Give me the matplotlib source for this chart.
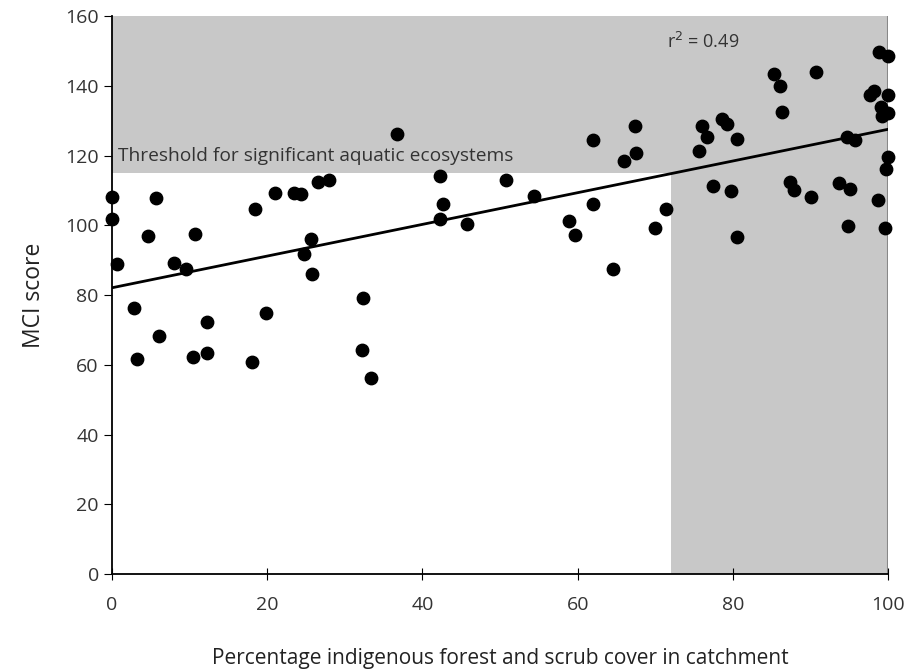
import numpy as np
import matplotlib
matplotlib.use("Agg")
import matplotlib.pyplot as plt

plt.rcParams['font.family'] = ['Open Sans', 'DejaVu Sans']

# percentage indigenous forest / scrub cover in catchment
cover = [0, 0, 0.7, 2.9, 3.2, 4.7, 5.7, 6.0, 7.95, 9.5, 10.7, 10.5, 12.2, 12.2,
         18.0, 18.4, 19.9, 21.0, 23.5, 24.4, 26.5, 28.0, 25.6, 24.8, 25.8,
         36.7, 42.3, 42.7, 42.2, 45.7, 50.8, 54.3, 32.4, 32.2, 33.4,
         61.9, 67.4, 67.5, 65.9, 62.0, 58.9, 59.6, 64.6, 69.9, 71.4,
         76.0, 76.6, 75.6, 78.6, 79.2, 80.5, 77.4, 79.7, 80.5,
         85.3, 86.1, 90.7, 86.3, 87.3, 87.9, 90.1, 93.6, 95.1, 94.8, 94.7, 95.7,
         98.8, 100, 98.1, 97.7, 100, 99.0, 99.2, 100, 100, 99.7, 98.7, 99.6]
# MCI score
mci = [108.2, 101.7, 88.9, 76.2, 61.6, 96.9, 108.0, 68.2, 89.1, 87.6, 97.4, 62.2, 63.3, 72.2,
       60.8, 104.7, 74.9, 109.4, 109.2, 108.9, 112.5, 113.0, 96.2, 91.7, 86.1,
       126.2, 114.1, 106.1, 101.8, 100.4, 113.0, 108.3, 79.3, 64.3, 56.3,
       124.4, 128.4, 120.9, 118.5, 106.2, 101.3, 97.3, 87.4, 99.3, 104.7,
       128.4, 125.3, 121.3, 130.4, 129.2, 124.7, 111.3, 110.0, 96.7,
       143.5, 140.0, 143.9, 132.5, 112.5, 110.3, 108.2, 112.3, 110.4, 99.9, 125.4, 124.4,
       149.8, 148.5, 138.6, 137.3, 137.4, 134.0, 131.4, 132.3, 119.7, 116.3, 107.2, 99.3]

threshold = 115
cover_threshold = 72
r2_label = "r$^2$ = 0.49"

fig = plt.figure(figsize=(9.08, 6.72), dpi=100)
ax = fig.add_axes([0.1233, 0.1458, 0.855, 0.830])

grey = '#c8c8c8'
ax.axhspan(threshold, 160, color=grey, lw=0, zorder=0)
ax.axvspan(cover_threshold, 100, color=grey, lw=0, zorder=0)
ax.axvline(100, color='#888888', lw=1.5, zorder=1)

# least-squares line through the points
slope, intercept = np.polyfit(cover, mci, 1)
xs = np.array([0, 100])
ax.plot(xs, intercept + slope * xs, color='black', lw=2, zorder=2)

ax.scatter(cover, mci, s=80, color='black', zorder=3, clip_on=False)

txt = '#333333'
ax.text(0.8, 120, "Threshold for significant aquatic ecosystems", fontsize=13.8,
        color=txt, va='center', ha='left')
ax.text(71.5, 152.5, r2_label, fontsize=13, color=txt, va='center', ha='left')

ax.set_xlim(0, 100)
ax.set_ylim(0, 160)
ax.set_xticks(range(0, 101, 20))
ax.set_yticks(range(0, 161, 20))
ax.tick_params(axis='x', direction='inout', length=8, labelsize=14, pad=12,
               labelcolor=txt)
ax.tick_params(axis='y', direction='out', length=6, labelsize=14, labelcolor=txt)
for s in ['top', 'right']:
    ax.spines[s].set_visible(False)
for s in ['left', 'bottom']:
    ax.spines[s].set_linewidth(1.3)

ax.set_xlabel("Percentage indigenous forest and scrub cover in catchment",
              fontsize=15, labelpad=24, color='#222222')
ax.set_ylabel("MCI score", fontsize=16.5, labelpad=14, color='#222222')

fig.savefig("out.png", dpi=100)
